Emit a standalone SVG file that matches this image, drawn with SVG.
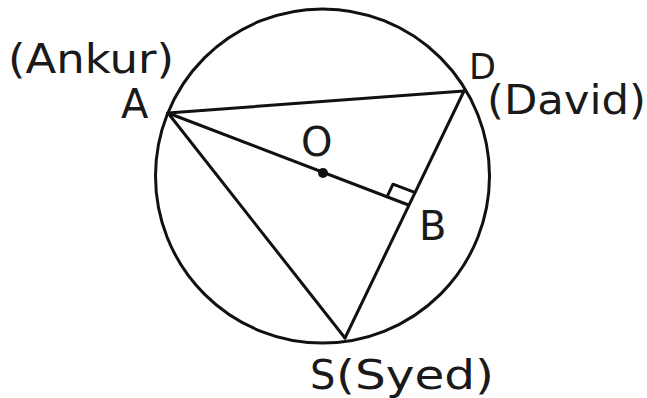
<svg xmlns="http://www.w3.org/2000/svg" width="647" height="398" viewBox="0 0 647 398">
<style>
.ln{stroke:#111;stroke-width:3;fill:none;stroke-linecap:round;stroke-linejoin:round}
.lb{font-family:"DejaVu Sans","Liberation Sans",sans-serif;font-size:40px;fill:#1a1a1a}
</style>
<rect width="647" height="398" fill="#fff"/>
<g id="circle"><circle class="ln" cx="322.5" cy="176" r="167"/></g>
<g id="connectors">
<line class="ln" x1="168" y1="113" x2="464" y2="91"/>
<line class="ln" x1="168" y1="113" x2="345" y2="338"/>
<line class="ln" x1="464" y1="91" x2="345" y2="338"/>
<line class="ln" x1="168" y1="113" x2="408.5" y2="205"/>
<polyline class="ln" points="387,196.8 393,184.2 414.6,192.4" stroke-width="2.5"/>
</g>
<g id="node-O"><circle cx="323" cy="173" r="5" fill="#111"/><text class="lb" x="301" y="156">O</text></g>
<g id="node-A"><text class="lb" x="121" y="118">A</text><text class="lb" x="8" y="73" textLength="166" lengthAdjust="spacingAndGlyphs">(Ankur)</text></g>
<g id="node-D"><text class="lb" x="469" y="79" style="font-size:35px">D</text><text class="lb" x="487" y="114" textLength="159" lengthAdjust="spacingAndGlyphs">(David)</text></g>
<g id="node-B"><text class="lb" x="419" y="240">B</text></g>
<g id="node-S"><text class="lb" x="310" y="389">S</text><text class="lb" x="336" y="389" textLength="158" lengthAdjust="spacingAndGlyphs">(Syed)</text></g>
</svg>
